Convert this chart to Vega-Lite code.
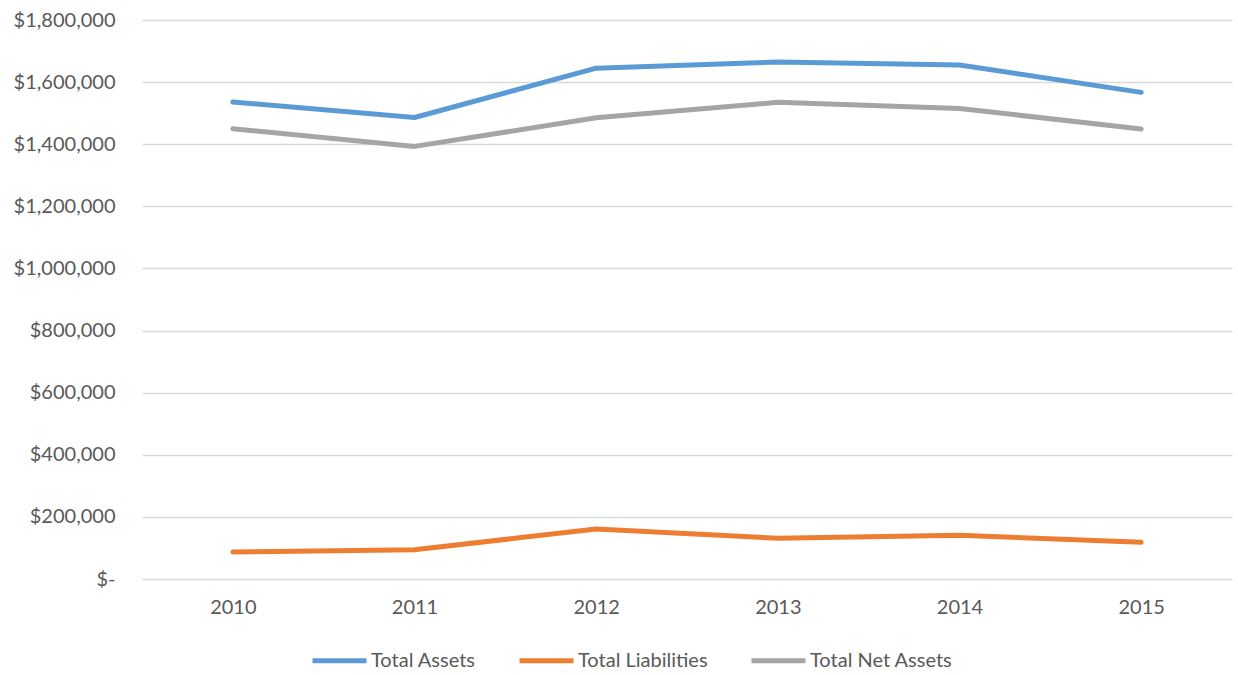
{
  "$schema": "https://vega.github.io/schema/vega-lite/v6.json",
  "autosize": "none",
  "padding": {"left": 142, "top": 20, "right": 6, "bottom": 96},
  "width": 1090,
  "height": 559,
  "background": "#ffffff",
  "config": {
    "view": {"stroke": null},
    "font": "Lato"
  },
  "data": {
    "values": [
      {"year": "2010", "series": "Total Assets", "value": 1536000},
      {"year": "2011", "series": "Total Assets", "value": 1486000},
      {"year": "2012", "series": "Total Assets", "value": 1645000},
      {"year": "2013", "series": "Total Assets", "value": 1665000},
      {"year": "2014", "series": "Total Assets", "value": 1655000},
      {"year": "2015", "series": "Total Assets", "value": 1567000},
      {"year": "2010", "series": "Total Liabilities", "value": 87000},
      {"year": "2011", "series": "Total Liabilities", "value": 94000},
      {"year": "2012", "series": "Total Liabilities", "value": 161000},
      {"year": "2013", "series": "Total Liabilities", "value": 131000},
      {"year": "2014", "series": "Total Liabilities", "value": 141000},
      {"year": "2015", "series": "Total Liabilities", "value": 118000},
      {"year": "2010", "series": "Total Net Assets", "value": 1450000},
      {"year": "2011", "series": "Total Net Assets", "value": 1393000},
      {"year": "2012", "series": "Total Net Assets", "value": 1485000},
      {"year": "2013", "series": "Total Net Assets", "value": 1535000},
      {"year": "2014", "series": "Total Net Assets", "value": 1515000},
      {"year": "2015", "series": "Total Net Assets", "value": 1449000}
    ]
  },
  "mark": {"type": "line", "strokeWidth": 5, "strokeCap": "round", "strokeJoin": "round"},
  "encoding": {
    "x": {
      "field": "year",
      "type": "ordinal",
      "scale": {"type": "point", "padding": 0.5},
      "axis": {
        "title": null,
        "labelAngle": 0,
        "domain": false,
        "ticks": false,
        "grid": false,
        "labelFont": "Lato",
        "labelFontSize": 20,
        "labelColor": "#595959",
        "labelPadding": 18
      }
    },
    "y": {
      "field": "value",
      "type": "quantitative",
      "scale": {"domain": [0, 1800000], "nice": false},
      "axis": {
        "title": null,
        "values": [0, 200000, 400000, 600000, 800000, 1000000, 1200000, 1400000, 1600000, 1800000],
        "labelExpr": "datum.value == 0 ? '$-\u00a0\u00a0\u00a0\u00a0' : format(datum.value, '$,')",
        "domain": false,
        "ticks": false,
        "grid": true,
        "gridColor": "#D9D9D9",
        "gridWidth": 1.3,
        "labelFont": "Lato",
        "labelFontSize": 20,
        "labelColor": "#595959",
        "labelPadding": 27
      }
    },
    "color": {
      "field": "series",
      "type": "nominal",
      "scale": {
        "domain": ["Total Assets", "Total Liabilities", "Total Net Assets"],
        "range": ["#5B9BD5", "#ED7D31", "#A5A5A5"]
      },
      "legend": {
        "title": null,
        "orient": "none",
        "legendX": 168,
        "legendY": 611,
        "direction": "horizontal",
        "symbolType": "stroke",
        "symbolSize": 2916,
        "symbolStrokeWidth": 5,
        "labelFont": "Lato",
        "labelFontSize": 20,
        "labelColor": "#595959",
        "labelOffset": 2,
        "columnPadding": 33
      }
    }
  }
}
